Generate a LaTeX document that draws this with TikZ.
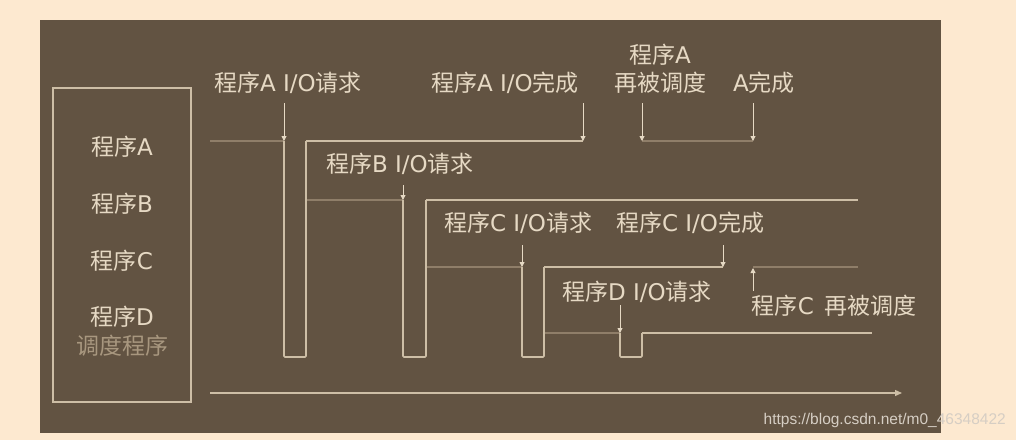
\documentclass[tikz,border=0pt]{standalone}
\usepackage{fontspec}
\setmainfont{Noto Sans CJK SC}
\newfontfamily\latfont{DejaVu Sans}
\newfontfamily\wmfont{Liberation Sans}
\newcommand\latx[1]{{\latfont #1}}
\usetikzlibrary{arrows.meta}
\definecolor{outerbg}{HTML}{FDE9D0}
\definecolor{panel}{HTML}{625342}
\definecolor{txt}{HTML}{E6D9C4}
\definecolor{dimtxt}{HTML}{A8977F}
\definecolor{bright}{HTML}{CDBEA6}
\definecolor{dimline}{HTML}{8F7E69}
\definecolor{wmcol}{HTML}{D6CEC4}
\begin{document}
\begin{tikzpicture}[x=1pt,y=-1pt,
  lbl/.style={text=txt, font=\fontsize{23}{28}\selectfont, inner sep=0pt, align=center},
  run/.style={draw=dimline, line width=1.3pt},
  wait/.style={draw=bright, line width=1.6pt},
  pulse/.style={draw=bright, line width=1.6pt, rounded corners=1pt},
  evt/.style={draw=txt, line width=0.9pt, -{Triangle[length=5pt,width=5pt]}},
  frame/.style={draw=bright, line width=1.4pt}
]
% background and bounding box
\fill[outerbg] (0,0) rectangle (1016,440);
\useasboundingbox (0,0) rectangle (1016,440);
\fill[panel] (40,20) rectangle (941,433);

% left legend box
\node[frame, minimum width=138pt, minimum height=314pt, inner sep=0pt] (legend) at (122,245) {};
\node[lbl] (lA) at (122,147) {程序\latx{A}};
\node[lbl] (lB) at (122,204) {程序\latx{B}};
\node[lbl] (lC) at (122,261) {程序\latx{C}};
\node[lbl] (lD) at (122,317) {程序\latx{D}};
\node[lbl, text=dimtxt] (lS) at (122,346) {调度程序};

% key coordinates
\coordinate (A0) at (210,141);
\coordinate (A1) at (284,141);
\coordinate (A2) at (306,141);
\coordinate (A3) at (583,141);
\coordinate (A4) at (642,141);
\coordinate (A5) at (753,141);
\coordinate (B0) at (306,200);
\coordinate (B1) at (403,200);
\coordinate (B2) at (426,200);
\coordinate (B3) at (858,200);
\coordinate (C0) at (426,267);
\coordinate (C1) at (522,267);
\coordinate (C2) at (544,267);
\coordinate (C3) at (723,267);
\coordinate (C4) at (753,267);
\coordinate (C5) at (858,267);
\coordinate (D0) at (544,333);
\coordinate (D1) at (620,333);
\coordinate (D2) at (642,333);
\coordinate (D3) at (872,333);
\coordinate (T0) at (210,393);
\coordinate (T1) at (902,393);

% running segments
\draw[run] (A0) -- (A1);
\draw[run] (A4) -- (A5);
\draw[run] (B0) -- (B1);
\draw[run] (C0) -- (C1);
\draw[run] (C4) -- (C5);
\draw[run] (D0) -- (D1);

% scheduler pulses
\draw[pulse] (A1) -- (284,357) -- (306,357) -- (A2);
\draw[pulse] (B1) -- (403,357) -- (426,357) -- (B2);
\draw[pulse] (C1) -- (522,357) -- (544,357) -- (C2);
\draw[pulse] (D1) -- (620,357) -- (642,357) -- (D2);

% waiting segments
\draw[wait] (A2) -- (A3);
\draw[wait] (B2) -- (B3);
\draw[wait] (C2) -- (C3);
\draw[wait] (D2) -- (D3);

% time axis
\draw[draw=bright, line width=1.3pt, -{Triangle[length=7pt,width=6pt]}] (T0) -- (T1);

% event labels
\node[lbl] (eA1) at (288,83) {程序\latx{A I/O}请求};
\node[lbl] (eA3) at (505,83) {程序\latx{A I/O}完成};
\node[lbl] (eA4) at (660,69) {程序\latx{A}\\再被调度};
\node[lbl] (eA5) at (764,83) {\latx{A}完成};
\node[lbl] (eB1) at (400,164) {程序\latx{B I/O}请求};
\node[lbl] (eC1) at (518,223) {程序\latx{C I/O}请求};
\node[lbl] (eC3) at (690,223) {程序\latx{C I/O}完成};
\node[lbl] (eD1) at (637,292) {程序\latx{D I/O}请求};
\node[lbl] (eC4) at (834,306) {程序\latx{C}\hspace{0.45em}再被调度};

% event arrows
\draw[evt] (284,103) -- (A1);
\draw[evt] (583,103) -- (A3);
\draw[evt] (642,103) -- (A4);
\draw[evt] (753,103) -- (A5);
\draw[evt] (403,185) -- (B1);
\draw[evt] (522,245) -- (C1);
\draw[evt] (723,245) -- (C3);
\draw[evt] (620,305) -- (D1);
\draw[evt] (753,291) -- (753,268);

% watermark
\node[text=wmcol, font=\wmfont\fontsize{15.5}{18}\selectfont, anchor=east, inner sep=0pt] (wm) at (1006,420) {https://blog.csdn.net/m0\_46348422};
\end{tikzpicture}
\end{document}
